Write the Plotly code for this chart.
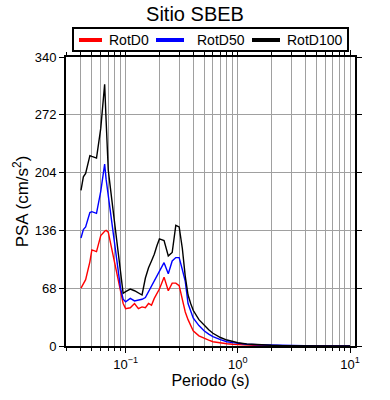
import plotly.graph_objects as go

periods = [0.04, 0.042, 0.044, 0.048, 0.05, 0.055, 0.06, 0.065, 0.067, 0.07, 0.075, 0.08, 0.085,
           0.09, 0.095, 0.1, 0.11, 0.12, 0.13, 0.14, 0.15, 0.16, 0.17, 0.18, 0.19, 0.2, 0.22,
           0.24, 0.26, 0.28, 0.3, 0.32, 0.34, 0.36, 0.38, 0.4, 0.45, 0.5, 0.55, 0.6, 0.7, 0.8,
           0.9, 1.0, 1.2, 1.5, 2.0, 2.5, 3.0, 4.0, 5.0, 6.0, 7.0, 8.0, 9.0, 10.0]

rotd0 = [68, 74, 78, 99, 113, 111, 130, 135, 136, 134, 115, 98, 81,
         66, 50, 44, 45, 50, 44, 46, 45, 50, 48, 56, 62, 67, 81,
         65, 74, 74, 71, 55, 40, 31, 25, 18, 12, 9, 7, 5, 3.5, 2.6,
         2, 1.6, 1.0, 0.6, 0.3, 0.2, 0.15, 0.1, 0.07, 0.05, 0.04, 0.03, 0.03, 0.02]

rotd50 = [127, 137, 140, 157, 158, 156, 182, 214, 196, 178, 148, 120, 93,
          68, 55, 52, 56, 53, 54, 55, 57, 64, 71, 77, 82, 88, 98,
          85, 100, 104, 104, 90, 76, 50, 40, 33, 24, 18, 14, 11, 7.5, 5,
          4, 3, 2, 1.5, 1.0, 0.6, 0.4, 0.25, 0.15, 0.1, 0.08, 0.06, 0.05, 0.04]

rotd100 = [183, 199, 203, 224, 223, 221, 256, 308, 265, 207, 174, 145, 115,
           88, 62, 64, 67, 65, 62, 60, 80, 92, 100, 108, 118, 126, 124,
           106, 110, 142, 140, 115, 82, 60, 50, 42, 31, 24, 19, 15, 10, 7,
           5, 3.8, 2.4, 1.4, 0.8, 0.5, 0.3, 0.2, 0.12, 0.09, 0.07, 0.05, 0.04, 0.03]

series_names = ["RotD0", "RotD50", "RotD100"]
series_values = [rotd0, rotd50, rotd100]
series_colors = ["#ff0000", "#0000ff", "#000000"]
yticks = [0, 68, 136, 204, 272, 340]
xmajor = [0.1, 1, 10]
xmajor_text = ["10<sup>\u22121</sup>", "10<sup>0</sup>", "10<sup>1</sup>"]

minor_vals = [m * 10.0 ** e for e in range(-2, 2) for m in range(2, 10)]

W, H = 390, 400
ML, MR, MT, MB = 66, 35, 57, 54
PW, PH = W - ML - MR, H - MT - MB


def px(x):
    return (x - ML) / PW


def py(y):
    return (H - MB - y) / PH


fig = go.Figure()
for name, vals, col in zip(series_names, series_values, series_colors):
    fig.add_trace(go.Scatter(x=periods, y=vals, mode="lines", name=name,
                             line=dict(color=col, width=1.4), showlegend=False))

font = "Liberation Sans, Arial, sans-serif"

# legend box (framed row above the plot, as in the reference)
shapes = [dict(type="rect", xref="paper", yref="paper", x0=px(73), x1=px(348), y0=py(51), y1=py(28),
               line=dict(color="black", width=2), fillcolor="white", layer="above")]
annotations = []
line_starts = [79, 156, 252]
line_ends = [102, 184, 280]
text_starts = [107, 195, 285]
for name, col, x0, x1, tx in zip(series_names, series_colors, line_starts, line_ends, text_starts):
    shapes.append(dict(type="line", xref="paper", yref="paper", x0=px(x0), x1=px(x1),
                       y0=py(40), y1=py(40), line=dict(color=col, width=4), layer="above"))
    annotations.append(dict(text=name, xref="paper", yref="paper", x=px(tx), y=py(40),
                            xanchor="left", yanchor="middle", showarrow=False,
                            font=dict(size=14, family=font, color="black")))

fig.update_layout(
    width=W, height=H,
    margin=dict(l=ML, r=MR, t=MT, b=MB),
    paper_bgcolor="white", plot_bgcolor="white",
    font=dict(family=font, color="black", size=13),
    title=dict(text="Sitio SBEB", x=0.5, xanchor="center", y=1 - 13.5 / 400, yanchor="middle",
               font=dict(size=20, family=font)),
    showlegend=False,
    shapes=shapes,
    annotations=annotations,
)
fig.update_xaxes(
    type="log", range=[-1.5316, 1.0445],
    tickmode="array", tickvals=xmajor, ticktext=xmajor_text,
    ticks="outside", ticklen=5, tickwidth=1, tickcolor="black",
    showgrid=True, gridcolor="#a0a0a0", gridwidth=1,
    showline=True, linecolor="black", linewidth=2, mirror="ticks",
    minor=dict(tickmode="array", tickvals=minor_vals, ticks="outside", ticklen=3,
               tickcolor="black", showgrid=True, gridcolor="#a0a0a0", gridwidth=1),
    title=dict(text="Periodo (s)", font=dict(size=16), standoff=4),
    tickfont=dict(size=13), zeroline=False,
)
fig.update_yaxes(
    range=[0, 340], tickmode="array", tickvals=yticks,
    ticks="outside", ticklen=5, tickwidth=1, tickcolor="black",
    showgrid=True, gridcolor="#a0a0a0", gridwidth=1,
    showline=True, linecolor="black", linewidth=2, mirror="ticks",
    title=dict(text="PSA (cm/s<sup>2</sup>)", font=dict(size=17), standoff=2),
    tickfont=dict(size=13), zeroline=False,
)
fig.write_html("out.html", config={"displayModeBar": False},
               post_script="document.body.style.margin='0';")
